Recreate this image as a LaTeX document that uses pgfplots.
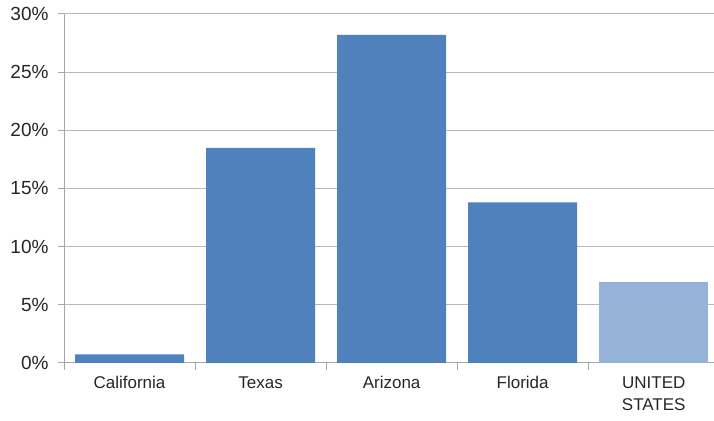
\documentclass[border=0pt]{standalone}
\usepackage{pgfplots}
\pgfplotsset{compat=1.18}
\usepackage{fontspec}
\setmainfont{Liberation Sans}
\definecolor{barblue}{HTML}{4F81BD}
\definecolor{barlight}{HTML}{95B3D7}
\definecolor{axgray}{HTML}{A6A6A6}
\begin{document}
\begin{tikzpicture}[x=1pt,y=1pt]
\begin{axis}[
  name=ax,
  at={(64pt,57pt)}, anchor=south west,
  scale only axis,
  width=650pt, height=349pt,
  ybar, bar shift=0pt, bar width=109pt,
  xmin=-0.5, xmax=4.46,
  ymin=0, ymax=30,
  ytick={0,5,...,30},
  yticklabel={\pgfmathprintnumber{\tick}\%},
  xtick={0,1,2,3,4},
  xticklabels={California,Texas,Arizona,Florida,{UNITED\\STATES}},
  xticklabel style={align=center, font=\fontsize{17}{22}\selectfont, text=black!85, yshift=-4pt},
  yticklabel style={font=\fontsize{19}{22}\selectfont, text=black!85, xshift=-6pt},
  major x tick style={draw=none},
  minor xtick={-0.5,0.5,1.5,2.5,3.5},
  minor x tick style={draw=axgray, line width=1pt},
  minor tick length=7pt,
  major tick length=6pt,
  tick align=outside,
  ymajorgrids,
  grid style={draw=axgray!80, line width=1pt},
  axis x line*=bottom, axis y line*=left,
  axis line style={draw=axgray, line width=1pt},
  ytick style={draw=axgray, line width=1pt},
  /pgf/number format/assume math mode=true,
  clip=false,
]
\addplot[fill=barblue, draw=none] coordinates {(0,0.75) (1,18.5) (2,28.2) (3,13.8)};
\addplot[fill=barlight, draw=none] coordinates {(4,7.0)};
\end{axis}
\pgfresetboundingbox
\path (0,0) rectangle (714,420);
\end{tikzpicture}
\end{document}
